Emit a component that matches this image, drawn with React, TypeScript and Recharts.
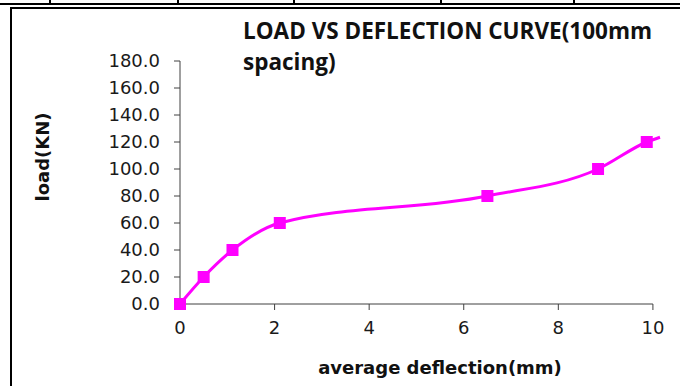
import React from 'react';
import { LineChart, Line, XAxis, YAxis, ReferenceLine } from 'recharts';

// average deflection (mm) and load (KN)
const deflection = [0, 0.5, 1.11, 2.11, 6.5, 8.84, 9.87, 10.15];
const load = [0, 20, 40, 60, 80, 100, 120, 123.5];
// last point is only the tail of the smoothed curve, no marker there
const hasMarker = [true, true, true, true, true, true, true, false];

const xTicks = [0, 2, 4, 6, 8, 10];
const yTicks = [0, 20, 40, 60, 80, 100, 120, 140, 160, 180];

const titleLines = ['LOAD VS DEFLECTION CURVE(100mm', 'spacing)'];

const PINK = '#FF00FF';
const AXIS = '#404040';
const FONT = '"DejaVu Sans", sans-serif';

const data = deflection.map((x, i) => ({ x, load: load[i], marker: hasMarker[i] }));

const SquareDot = (props: any) => {
  const { cx, cy, payload, index } = props;
  if (!payload.marker || cx == null) return <g key={`d-${index}`} />;
  return <rect key={`d-${index}`} x={cx - 6} y={cy - 6} width={12} height={12} fill={PINK} />;
};

export default function App() {
  return (
    <div style={{ position: 'fixed', left: 0, top: 0, width: 680, height: 386, background: '#fff', overflow: 'hidden' }}>
      {/* table rules around the figure */}
      <div style={{ position: 'absolute', left: 0, top: 3, width: 680, height: 2, background: '#000' }} />
      {[49, 177, 293, 440, 573].map((x) => (
        <div key={x} style={{ position: 'absolute', left: x, top: 0, width: 1.5, height: 4, background: '#000' }} />
      ))}
      <div style={{ position: 'absolute', left: 10, top: 7, width: 670, height: 1.5, background: '#000' }} />
      <div style={{ position: 'absolute', left: 10, top: 7, width: 2, height: 379, background: '#000' }} />

      <LineChart width={680} height={386} data={data} margin={{ top: 61, right: 20, bottom: 0, left: 0 }}>
        <XAxis
          type="number"
          dataKey="x"
          domain={[0, 10.15]}
          ticks={xTicks}
          axisLine={false}
          tickLine={{ stroke: AXIS }}
          tickSize={6}
          tickMargin={11}
          height={82}
          tick={{ fontFamily: FONT, fontSize: 18, fill: '#1a1a1a' }}
          label={{
            content: () => (
              <text x={440} y={367} textAnchor="middle" dominantBaseline="central"
                style={{ fontFamily: FONT, fontSize: 18, fontWeight: 700, fill: '#111' }}>
                average deflection(mm)
              </text>
            ),
          }}
        />
        <YAxis
          type="number"
          domain={[0, 180]}
          ticks={yTicks}
          width={180}
          axisLine={{ stroke: AXIS }}
          tickLine={{ stroke: AXIS }}
          tickSize={6}
          tickMargin={14}
          tickFormatter={(v: number) => v.toFixed(1)}
          tick={{ fontFamily: FONT, fontSize: 18, fill: '#1a1a1a' }}
          label={{
            content: () => (
              <text x={42} y={157} transform="rotate(-90 42 157)" textAnchor="middle" dominantBaseline="central"
                style={{ fontFamily: FONT, fontSize: 18, fontWeight: 700, fill: '#111' }}>
                load(KN)
              </text>
            ),
          }}
        />
        <ReferenceLine segment={[{ x: 0, y: 0 }, { x: 10, y: 0 }]} stroke={AXIS} />
        <Line
          type="monotone"
          dataKey="load"
          stroke={PINK}
          strokeWidth={3}
          dot={SquareDot}
          activeDot={false}
          isAnimationActive={false}
        />
      </LineChart>

      <div style={{ position: 'absolute', left: 243, top: 15, fontFamily: '"Open Sans", sans-serif', fontWeight: 700, fontSize: 22.5, lineHeight: '31px', color: '#111', whiteSpace: 'nowrap' }}>
        {titleLines.map((t) => (
          <div key={t}>{t}</div>
        ))}
      </div>
    </div>
  );
}
